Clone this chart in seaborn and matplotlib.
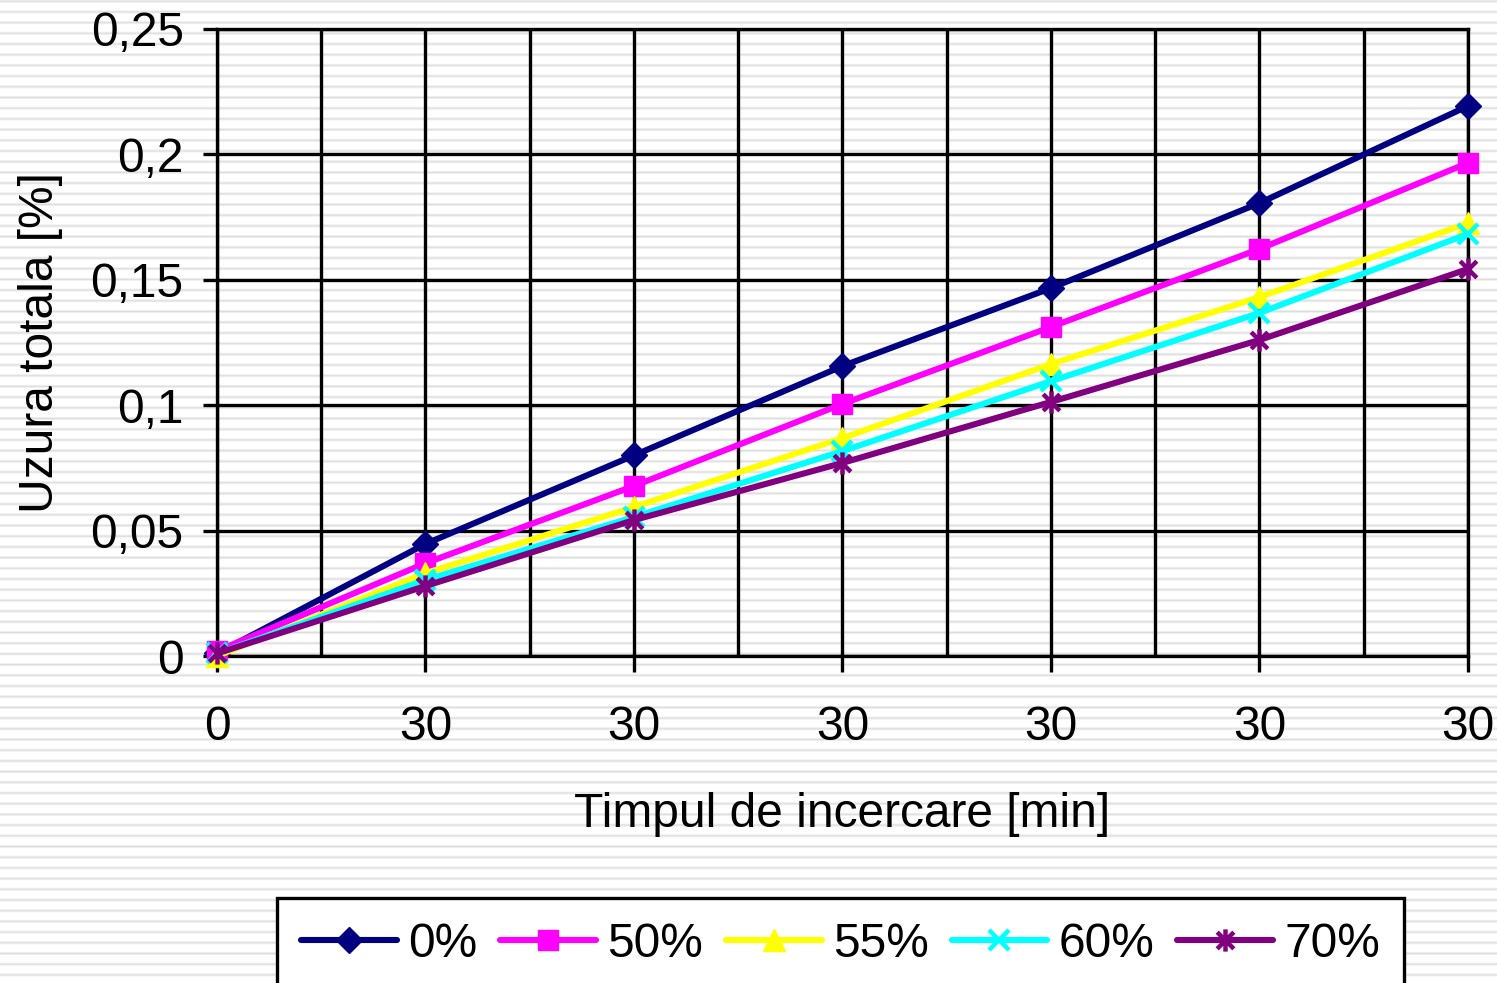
import numpy as np
import pandas as pd
import matplotlib
matplotlib.use("Agg")
import matplotlib.pyplot as plt
from matplotlib.path import Path
import seaborn as sns

# Wear measurements per additive share
categories = ["0", "30", "30", "30", "30", "30", "30"]
series_names = ["0%", "50%", "55%", "60%", "70%"]
wear_0 = [0.001, 0.0447, 0.0800, 0.1156, 0.1467, 0.1806, 0.2193]
wear_50 = [0.002, 0.0370, 0.0678, 0.1005, 0.1312, 0.1623, 0.1966]
wear_55 = [0.000, 0.0330, 0.0594, 0.0869, 0.1164, 0.1431, 0.1726]
wear_60 = [0.001, 0.0303, 0.0554, 0.0817, 0.1096, 0.1368, 0.1683]
wear_70 = [0.001, 0.0279, 0.0542, 0.0770, 0.1013, 0.1260, 0.1543]
y_ticks = [0, 0.05, 0.1, 0.15, 0.2, 0.25]
y_tick_labels = ["0", "0,05", "0,1", "0,15", "0,2", "0,25"]

values = [wear_0, wear_50, wear_55, wear_60, wear_70]
colors = ["#000080", "#FF00FF", "#FFFF00", "#00FFFF", "#800080"]

# Excel-like star marker: vertical bar plus an X
star = Path([(0, -1), (0, 1), (-0.75, -0.75), (0.75, 0.75), (-0.75, 0.75), (0.75, -0.75)],
            [Path.MOVETO, Path.LINETO, Path.MOVETO, Path.LINETO, Path.MOVETO, Path.LINETO])
marker_styles = [
    dict(marker="D", ms=13, mew=1),
    dict(marker="s", ms=15, mew=1),
    dict(marker="^", ms=16, mew=1),
    dict(marker="x", ms=14, mew=3.2),
    dict(marker=star, ms=16, mew=3.2),
]

frames = []
for name, vals in zip(series_names, values):
    frames.append(pd.DataFrame({"pos": np.arange(len(categories)), "wear": vals, "series": name}))
df = pd.concat(frames, ignore_index=True)

sns.set_theme(style="white")
plt.rcParams["font.family"] = ["Liberation Sans", "DejaVu Sans"]
plt.rcParams["text.color"] = "black"
plt.rcParams["axes.labelcolor"] = "black"
plt.rcParams["xtick.color"] = "black"
plt.rcParams["ytick.color"] = "black"

FS = 34.5
W, H, DPI = 1497, 983, 100
fig = plt.figure(figsize=(W / DPI, H / DPI), dpi=DPI)

# Striped page background
bg = fig.add_axes([0, 0, 1, 1], zorder=-10)
rows = np.arange(H) + 0.5
period = 10.7
d = np.abs(((rows - 1.2) % period + period / 2) % period - period / 2)
shade = 1 - 0.13 * np.clip(1 - d / 2.0, 0, 1)
bg.imshow(np.repeat(shade[:, None, None], 3, axis=2),
          aspect="auto", interpolation="nearest", extent=[0, 1, 0, 1], origin="upper")
bg.set_axis_off()

ax = fig.add_axes([217 / W, 1 - 656 / H, (1468 - 217) / W, (656 - 29) / H])
ax.set_facecolor("none")

for name, color, ms in zip(series_names, colors, marker_styles):
    sub = df[df["series"] == name]
    sns.lineplot(data=sub, x="pos", y="wear", ax=ax, color=color, lw=4.4,
                 marker=ms["marker"], markersize=ms["ms"], mew=ms["mew"],
                 mec=color, mfc=color, label=name, clip_on=False, zorder=3)

ax.set_xlim(0, len(categories) - 1)
ax.set_ylim(0, 0.25)
ax.set_xticks(np.arange(len(categories)))
ax.set_xticklabels(categories)
ax.set_xticks(np.arange(0.5, len(categories) - 1, 1), minor=True)
ax.set_yticks(y_ticks)
ax.set_yticklabels(y_tick_labels)

ax.grid(True, which="major", color="black", lw=2.4)
ax.grid(True, which="minor", axis="x", color="black", lw=2.4)
ax.set_axisbelow(True)
for s in ax.spines.values():
    s.set_color("black")
    s.set_linewidth(2.4)

ax.tick_params(axis="x", which="major", direction="out", length=11.5, width=2.4,
               color="black", labelcolor="black", labelsize=FS, pad=24, bottom=True)
ax.tick_params(axis="x", which="minor", length=0)
ax.tick_params(axis="y", direction="out", length=10, width=2.4, color="black",
               labelcolor="black", labelsize=FS, pad=14, left=True)

ax.set_xlabel("Timpul de incercare [min]", fontsize=FS, labelpad=30, color="black")
ax.set_ylabel("Uzura totala [%]", fontsize=FS, labelpad=20, color="black")

if ax.legend_:
    ax.legend_.remove()
handles, labels = ax.get_legend_handles_labels()
leg = fig.legend(handles, labels, loc="upper left",
                 bbox_to_anchor=(277 / W, 1 - 898 / H), bbox_transform=fig.transFigure,
                 ncol=5, fontsize=FS, frameon=True, fancybox=False, borderaxespad=0,
                 handlelength=2.0, handletextpad=0.24, columnspacing=0.47,
                 borderpad=0.5, labelcolor="black")
leg.get_frame().set_edgecolor("black")
leg.get_frame().set_linewidth(2.4)
leg.get_frame().set_facecolor("white")
leg.get_frame().set_alpha(1)

fig.savefig("out.png", dpi=DPI)
